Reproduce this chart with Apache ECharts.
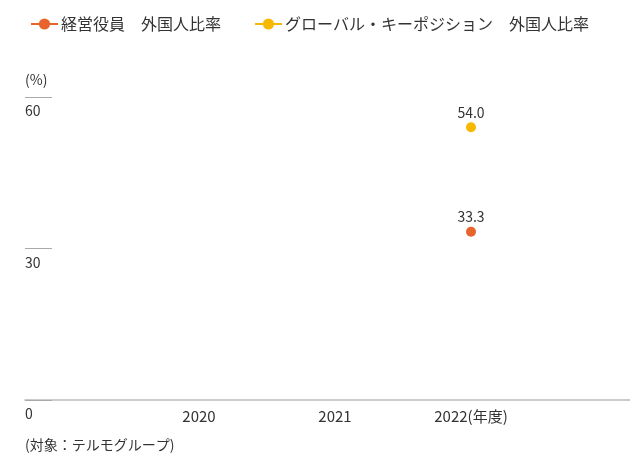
<!DOCTYPE html>
<html lang="ja">
<head>
    <meta charset="UTF-8">
    <title>外国人比率</title>
</head>
<body style="margin:0;">
    <div id="card" style="width: 630px;height:454px;"></div>
    <script src="https://cdn.jsdelivr.net/npm/echarts@6/dist/echarts.min.js"></script>
    <script>
        var years = ['2020', '2021', '2022'];
        var execRatio = [null, null, 33.3];      // 経営役員 外国人比率
        var globalKeyRatio = [null, null, 54.0]; // グローバル・キーポジション 外国人比率
        var yTicks = [0, 30, 60];

        var font = '"Noto Sans CJK JP", "Noto Sans", sans-serif';
        var orange = '#e8642c';
        var yellow = '#f7b900';

        var option = {
            backgroundColor: '#fff',
            textStyle: { fontFamily: font },
            legend: {
                left: 25,
                top: 11,
                itemWidth: 27,
                itemHeight: 14,
                itemGap: 33,
                textStyle: { fontSize: 16, color: '#333', fontFamily: font, padding: [0, 0, 0, -2] },
                data: ['経営役員　外国人比率', 'グローバル・キーポジション　外国人比率']
            },
            title: {
                text: '(対象：テルモグループ)',
                left: 20,
                top: 433,
                textStyle: { fontSize: 14, fontWeight: 'normal', color: '#333', fontFamily: font }
            },
            grid: [
                { left: 25, right: 0, top: 97, bottom: 54 },  // 軸線・目盛用
                { left: 131, width: 408, top: 97, bottom: 54 } // データ用
            ],
            xAxis: [{
                gridIndex: 0,
                type: 'category',
                data: [''],
                axisLine: { lineStyle: { color: '#bbb', width: 1.5 } },
                axisTick: { show: false },
                axisLabel: { show: false }
            }, {
                gridIndex: 1,
                type: 'category',
                data: years,
                axisLine: { show: false },
                axisTick: { show: false },
                axisLabel: {
                    margin: 9,
                    fontSize: 15,
                    color: '#333',
                    fontFamily: font,
                    formatter: function (v, i) {
                        return i === years.length - 1 ? v + '(年度)' : v;
                    }
                }
            }],
            yAxis: [{
                gridIndex: 0,
                type: 'value',
                min: yTicks[0],
                max: yTicks[yTicks.length - 1],
                interval: yTicks[1] - yTicks[0],
                name: '(%)',
                nameLocation: 'end',
                nameGap: 10,
                nameTextStyle: { align: 'left', fontSize: 14, color: '#333', fontFamily: font },
                axisLine: { show: false },
                axisTick: { show: true, inside: true, length: 27, lineStyle: { color: '#aaa', width: 1 } },
                splitLine: { show: false },
                axisLabel: {
                    inside: true,
                    margin: 0,
                    align: 'left',
                    verticalAlign: 'top',
                    padding: [7, 0, 0, 0],
                    fontSize: 14,
                    color: '#333',
                    fontFamily: font
                }
            }, {
                gridIndex: 1,
                type: 'value',
                min: yTicks[0],
                max: yTicks[yTicks.length - 1],
                show: false,
                splitLine: { show: false }
            }],
            series: [{
                name: '経営役員　外国人比率',
                type: 'line',
                xAxisIndex: 1,
                yAxisIndex: 1,
                data: execRatio,
                symbol: 'circle',
                symbolSize: 10,
                color: orange,
                itemStyle: { color: orange },
                lineStyle: { color: orange, width: 1 },
                label: {
                    show: true,
                    position: 'top',
                    distance: 3,
                    fontSize: 14,
                    color: '#333',
                    fontFamily: font,
                    formatter: function (p) { return p.value.toFixed(1); }
                }
            }, {
                name: 'グローバル・キーポジション　外国人比率',
                type: 'line',
                xAxisIndex: 1,
                yAxisIndex: 1,
                data: globalKeyRatio,
                symbol: 'circle',
                symbolSize: 10,
                color: yellow,
                itemStyle: { color: yellow },
                lineStyle: { color: yellow, width: 1 },
                label: {
                    show: true,
                    position: 'top',
                    distance: 3,
                    fontSize: 14,
                    color: '#333',
                    fontFamily: font,
                    formatter: function (p) { return p.value.toFixed(1); }
                }
            }]
        };

        var myChart = echarts.init(document.getElementById('card'));
        myChart.setOption(option);
    </script>
</body>
</html>
